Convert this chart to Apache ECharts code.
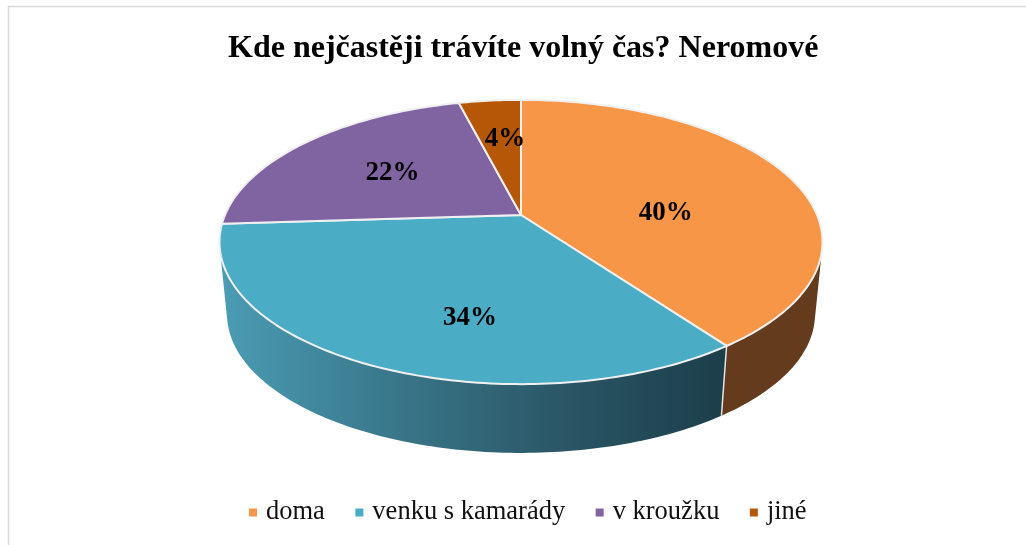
<!DOCTYPE html>
<html><head><meta charset="utf-8">
<style>html,body{margin:0;padding:0;background:#fff}#c{width:1026px;height:545px}</style>
<script src="https://cdn.jsdelivr.net/npm/echarts@6/dist/echarts.min.js"></script>
</head><body><div id="c"></div>
<script>
const categories = ['doma', 'venku s kamarády', 'v kroužku', 'jiné'];
const values = [40, 34, 22, 4];
const topColors = ['#F79646', '#4BACC6', '#8064A2', '#B65708'];
const labelNudge = [[8, 19], [18, 35], [-15, -4], [1, -14]];
const total = values.reduce((a, b) => a + b, 0);

// Perspective view of the pie disc
const view = { cx: 521, cy: 215, a: 296, b: 137, k: 0.19, depth: 73, shrink: 0.975 };
const font = '"Liberation Serif","Times New Roman",serif';
const wallFill = [
  '#643B1D',
  { type: 'linear', x: 225, y: 0, x2: 717, y2: 0, global: true, colorStops: [
    { offset: 0, color: '#4A9BB3' }, { offset: 0.35, color: '#397689' },
    { offset: 0.7, color: '#2A5565' }, { offset: 1, color: '#1D3F4B' }] },
  '#4C3B62', '#6D3405'
];

function project(frac, r, lower) {
  const t = frac * 2 * Math.PI, u = r * Math.sin(t), v = r * Math.cos(t);
  const w = 1 + view.k * v;
  const s = lower ? view.shrink : 1;
  return [view.cx + s * view.a * u / w, view.cy - s * view.b * v / w + (lower ? view.depth : 0)];
}
function arc(f0, f1, lower) {
  const pts = [], n = Math.max(2, Math.ceil((f1 - f0) * 360));
  for (let i = 0; i <= n; i++) pts.push(project(f0 + (f1 - f0) * i / n, 1, lower));
  return pts;
}
// Front-facing part of the rim: where the side wall stops being hidden by the disc
function tangentCross(f) {
  const e = 1e-3, a = project(f - e, 1, false), b = project(f + e, 1, false);
  const p = project(f, 1, false), q = project(f, 1, true);
  return (b[0] - a[0]) * (q[1] - p[1]) - (b[1] - a[1]) * (q[0] - p[0]);
}
function edgeOfFront(from, to) {
  let lo = from, hi = to;
  const sign = tangentCross(lo) > 0;
  for (let i = 0; i < 40; i++) {
    const mid = (lo + hi) / 2;
    if ((tangentCross(mid) > 0) === sign) lo = mid; else hi = mid;
  }
  return lo;
}
const frontStart = edgeOfFront(0.1, 0.4);
const frontEnd = edgeOfFront(0.6, 0.9);

function makeRender(index) {
  return function (params, api) {
    const before = values.slice(0, index).reduce((a, b) => a + b, 0);
    const f0 = before / total, f1 = (before + api.value(0)) / total;
    const children = [];
    const w0 = Math.max(f0, frontStart), w1 = Math.min(f1, frontEnd);
    if (w1 > w0) {
      children.push({ type: 'polygon', z2: 1,
        shape: { points: arc(w0, w1, false).concat(arc(w0, w1, true).reverse()) },
        style: { fill: wallFill[index], stroke: null } });
    }
    if (f0 > frontStart && f0 < frontEnd) {
      const p = project(f0, 1, false), q = project(f0, 1, true);
      children.push({ type: 'line', z2: 2, shape: { x1: p[0], y1: p[1], x2: q[0], y2: q[1] },
        style: { stroke: '#E4E4E4', lineWidth: 1.5 } });
    }
    children.push({ type: 'polygon', z2: 5,
      shape: { points: [project(0, 0, false)].concat(arc(f0, f1, false)) },
      style: { fill: topColors[index], stroke: '#F0F0F0', lineWidth: 2, lineJoin: 'round' } });
    const m = project((f0 + f1) / 2, 0.5, false);
    children.push({ type: 'text', z2: 10,
      x: m[0] + labelNudge[index][0], y: m[1] + labelNudge[index][1],
      style: { text: Math.round(api.value(0) / total * 100) + '%', fill: '#000',
        font: 'bold 27px ' + font, textAlign: 'center', textVerticalAlign: 'middle' } });
    return { type: 'group', children };
  };
}

const chart = echarts.init(document.getElementById('c'), null, { renderer: 'canvas' });
chart.setOption({
  animation: false,
  backgroundColor: '#fff',
  title: { text: 'Kde nejčastěji trávíte volný čas? Neromové', left: 223, top: 28,
    textStyle: { fontFamily: font, fontWeight: 'bold', fontSize: 32, color: '#000' } },
  legend: { data: categories, left: 244, top: 494, icon: 'rect', itemWidth: 8, itemHeight: 8,
    itemGap: 30.5, selectedMode: false,
    textStyle: { fontFamily: font, fontSize: 26.5, color: '#111', padding: [3, 0, 0, 4] } },
  graphic: [{ type: 'rect', silent: true, z: -1,
    shape: { x: 8.5, y: 6.5, width: 1100, height: 600 },
    style: { fill: null, stroke: '#D9D9D9', lineWidth: 1.5 } }],
  series: categories.map((name, i) => ({
    type: 'custom', name, coordinateSystem: 'none', silent: true,
    itemStyle: { color: topColors[i] },
    data: [[values[i]]],
    renderItem: makeRender(i)
  }))
});
</script></body></html>
